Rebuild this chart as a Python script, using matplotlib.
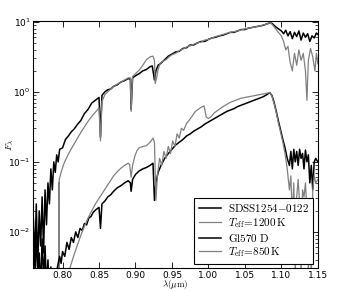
"""
Spectres SDSS1254-0122 et Gl570 D avec modeles Teff=1200 K et 850 K.
Export: out.png
"""

import matplotlib
matplotlib.use("Agg")
import numpy as np
import matplotlib.pyplot as plt

plt.rcParams["mathtext.fontset"] = "cm"

# SDSS1254-0122 (log10 F_lambda)
wl_sdss = [0.760, 0.762, 0.764, 0.766, 0.768, 0.770, 0.772, 0.774, 0.776, 0.778,
           0.780, 0.782, 0.784, 0.786, 0.788, 0.790, 0.792, 0.794, 0.796, 0.800,
           0.804, 0.808, 0.812, 0.816, 0.820, 0.825, 0.830, 0.835, 0.840, 0.845,
           0.850, 0.852, 0.854, 0.858, 0.862, 0.866, 0.870, 0.875, 0.880, 0.885,
           0.890, 0.893, 0.894, 0.896, 0.900, 0.905, 0.910, 0.915, 0.920, 0.923,
           0.926, 0.928, 0.931, 0.935, 0.940, 0.945, 0.950, 0.955, 0.960, 0.965,
           0.970, 0.975, 0.980, 0.985, 0.990, 0.995, 1.000, 1.005, 1.010, 1.015,
           1.020, 1.025, 1.030, 1.035, 1.040, 1.045, 1.050, 1.055, 1.060, 1.065,
           1.070, 1.075, 1.080, 1.085, 1.088, 1.092, 1.096, 1.100, 1.103, 1.106,
           1.109, 1.112, 1.115, 1.118, 1.121, 1.124, 1.127, 1.130, 1.133, 1.136,
           1.139, 1.142, 1.145, 1.148, 1.150]
lf_sdss = [-1.8, -2.4, -1.6, -2.5, -1.7, -2.2, -1.5, -2.3, -1.4, -1.9,
           -1.3, -1.6, -1.1, -1.4, -1.0, -1.15, -0.9, -1.0, -0.82, -0.80,
           -0.68, -0.63, -0.57, -0.53, -0.47, -0.41, -0.31, -0.25, -0.16, -0.12,
           -0.08, -0.65, -0.05, 0.0, 0.03, 0.04, 0.08, 0.10, 0.14, 0.16,
           0.19, 0.18, -0.25, 0.20, 0.23, 0.26, 0.30, 0.32, 0.36, 0.37,
           0.17, 0.30, 0.38, 0.41, 0.46, 0.51, 0.54, 0.57, 0.58, 0.62,
           0.63, 0.67, 0.67, 0.70, 0.72, 0.72, 0.75, 0.77, 0.78, 0.80,
           0.81, 0.83, 0.85, 0.85, 0.87, 0.89, 0.89, 0.91, 0.92, 0.93,
           0.94, 0.95, 0.97, 0.99, 0.97, 0.93, 0.90, 0.87, 0.83, 0.88,
           0.80, 0.86, 0.76, 0.85, 0.79, 0.87, 0.74, 0.84, 0.78, 0.83,
           0.72, 0.80, 0.77, 0.84, 0.82]

# modele Teff=1200 K
wl_m1200 = [0.7945, 0.7950, 0.7955, 0.798, 0.802, 0.806, 0.810, 0.815, 0.820, 0.825,
            0.830, 0.835, 0.840, 0.845, 0.850, 0.852, 0.854, 0.858, 0.862, 0.866,
            0.870, 0.875, 0.880, 0.885, 0.890, 0.893, 0.894, 0.896, 0.900, 0.905,
            0.910, 0.915, 0.920, 0.924, 0.926, 0.927, 0.929, 0.931, 0.934, 0.938,
            0.942, 0.946, 0.950, 0.955, 0.960, 0.965, 0.970, 0.975, 0.980, 0.985,
            0.990, 0.995, 1.000, 1.010, 1.020, 1.030, 1.040, 1.050, 1.060, 1.070,
            1.080, 1.085, 1.090, 1.095, 1.100, 1.103, 1.106, 1.109, 1.112, 1.115,
            1.118, 1.121, 1.124, 1.127, 1.130, 1.133, 1.135, 1.137, 1.140, 1.143,
            1.146, 1.148, 1.150]
lf_m1200 = [-1.30, -2.6, -1.25, -1.15, -1.02, -0.93, -0.85, -0.76, -0.67, -0.58,
            -0.50, -0.42, -0.35, -0.29, -0.23, -0.70, -0.14, -0.04, 0.0, 0.04,
            0.08, 0.11, 0.14, 0.17, 0.20, 0.20, -0.28, 0.22, 0.26, 0.31,
            0.38, 0.46, 0.50, 0.51, 0.45, 0.12, 0.20, 0.32, 0.41, 0.44,
            0.46, 0.50, 0.53, 0.55, 0.59, 0.61, 0.64, 0.66, 0.68, 0.70,
            0.71, 0.74, 0.75, 0.79, 0.82, 0.85, 0.87, 0.90, 0.92, 0.94,
            0.97, 0.99, 0.93, 0.86, 0.80, 0.72, 0.60, 0.65, 0.42, 0.30,
            0.55, 0.38, 0.60, 0.45, 0.55, 0.30, -0.12, 0.45, 0.62, 0.50,
            0.30, 0.55, 0.40]

# Gl570 D
wl_gl570 = [0.760, 0.762, 0.764, 0.766, 0.768, 0.770, 0.772, 0.774, 0.776, 0.778,
            0.780, 0.782, 0.784, 0.786, 0.788, 0.790, 0.793, 0.796, 0.798, 0.800,
            0.803, 0.806, 0.809, 0.812, 0.815, 0.818, 0.821, 0.824, 0.827, 0.830,
            0.833, 0.836, 0.839, 0.842, 0.846, 0.850, 0.852, 0.854, 0.858, 0.862,
            0.866, 0.870, 0.875, 0.880, 0.885, 0.890, 0.893, 0.894, 0.896, 0.900,
            0.905, 0.910, 0.915, 0.920, 0.924, 0.926, 0.928, 0.931, 0.935, 0.940,
            0.945, 0.950, 0.955, 0.960, 0.965, 0.970, 0.975, 0.980, 0.985, 0.990,
            0.995, 1.000, 1.005, 1.010, 1.015, 1.020, 1.025, 1.030, 1.035, 1.040,
            1.045, 1.050, 1.055, 1.060, 1.065, 1.070, 1.075, 1.080, 1.084, 1.087,
            1.090, 1.093, 1.096, 1.099, 1.102, 1.105, 1.108, 1.111, 1.113, 1.115,
            1.117, 1.119, 1.121, 1.123, 1.125, 1.127, 1.129, 1.131, 1.133, 1.135,
            1.137, 1.139, 1.141, 1.143, 1.145, 1.147, 1.150]
lf_gl570 = [-2.2, -2.7, -2.0, -2.6, -2.3, -2.8, -2.1, -2.7, -2.2, -2.8,
            -2.4, -2.9, -2.5, -2.8, -2.6, -2.9, -2.5, -2.35, -2.45, -2.28,
            -2.35, -2.15, -2.25, -2.08, -2.15, -2.0, -2.08, -1.95, -1.98, -1.88,
            -1.90, -1.80, -1.78, -1.72, -1.68, -1.65, -1.95, -1.60, -1.56, -1.50,
            -1.47, -1.42, -1.37, -1.34, -1.30, -1.27, -1.30, -1.42, -1.25, -1.18,
            -1.13, -1.10, -1.08, -1.05, -1.02, -1.55, -1.30, -1.15, -1.05, -0.95,
            -0.88, -0.82, -0.76, -0.72, -0.68, -0.63, -0.60, -0.56, -0.53, -0.50,
            -0.46, -0.43, -0.40, -0.37, -0.34, -0.31, -0.28, -0.26, -0.24, -0.21,
            -0.19, -0.17, -0.15, -0.13, -0.11, -0.09, -0.07, -0.04, -0.01, -0.05,
            -0.15, -0.28, -0.42, -0.55, -0.68, -0.80, -0.95, -1.05, -0.85, -1.10,
            -0.82, -1.00, -0.85, -1.05, -0.82, -0.95, -0.88, -1.10, -0.83, -1.00,
            -0.90, -1.30, -1.05, -1.40, -1.00, -0.95, -1.00]

# modele Teff=850 K
wl_m850 = [0.808, 0.812, 0.816, 0.820, 0.825, 0.830, 0.835, 0.840, 0.845, 0.850,
           0.855, 0.860, 0.865, 0.870, 0.875, 0.880, 0.885, 0.890, 0.892, 0.894,
           0.896, 0.899, 0.902, 0.905, 0.910, 0.915, 0.920, 0.924, 0.926, 0.928,
           0.930, 0.933, 0.936, 0.939, 0.942, 0.945, 0.948, 0.951, 0.954, 0.957,
           0.960, 0.963, 0.966, 0.970, 0.974, 0.978, 0.982, 0.986, 0.990, 0.994,
           0.997, 1.000, 1.004, 1.008, 1.012, 1.016, 1.020, 1.025, 1.030, 1.035,
           1.040, 1.045, 1.050, 1.055, 1.060, 1.065, 1.070, 1.075, 1.080, 1.084,
           1.087, 1.090, 1.093, 1.096, 1.099, 1.102, 1.105, 1.108, 1.111, 1.113,
           1.115, 1.117, 1.119, 1.121, 1.123, 1.125, 1.127, 1.129, 1.131, 1.133,
           1.135, 1.137, 1.139, 1.141, 1.143, 1.145, 1.147, 1.150]
lf_m850 = [-2.6, -2.45, -2.32, -2.20, -2.05, -1.92, -1.80, -1.70, -1.60, -1.52,
           -1.44, -1.36, -1.28, -1.20, -1.14, -1.09, -1.05, -1.02, -1.04, -1.22,
           -1.05, -0.92, -0.84, -0.80, -0.78, -0.77, -0.72, -0.66, -0.72, -1.55,
           -1.20, -0.95, -1.05, -0.85, -0.95, -0.78, -0.88, -0.70, -0.78, -0.60,
           -0.66, -0.52, -0.55, -0.45, -0.40, -0.34, -0.28, -0.25, -0.22, -0.20,
           -0.36, -0.38, -0.35, -0.30, -0.27, -0.24, -0.21, -0.18, -0.15, -0.13,
           -0.11, -0.09, -0.08, -0.07, -0.06, -0.05, -0.04, -0.03, -0.02, -0.01,
           -0.06, -0.17, -0.30, -0.45, -0.58, -0.72, -0.88, -1.10, -1.40, -1.20,
           -1.80, -1.30, -2.60, -1.50, -1.25, -1.60, -2.60, -1.40, -1.50, -1.30,
           -1.70, -2.60, -1.60, -2.70, -1.40, -1.20, -1.30, -1.25]

labels = [r"$\mathrm{SDSS1254{-}0122}$", r"$T_{\rm eff}\!=\!1200\,\mathrm{K}$",
          r"$\mathrm{Gl570\ D}$", r"$T_{\rm eff}\!=\!850\,\mathrm{K}$"]


def main():
    fig = plt.figure(figsize=(3.44, 2.91), dpi=100)
    ax = fig.add_axes([0.097, 0.079, 0.827, 0.848])

    ax.plot(wl_sdss, 10 ** np.array(lf_sdss), color="black", lw=1.1, label=labels[0])
    ax.plot(wl_m1200, 10 ** np.array(lf_m1200), color="0.5", lw=0.9, label=labels[1])
    ax.plot(wl_gl570, 10 ** np.array(lf_gl570), color="black", lw=1.1, label=labels[2])
    ax.plot(wl_m850, 10 ** np.array(lf_m850), color="0.5", lw=0.9, label=labels[3])

    ax.set_yscale("log")
    ax.set_xlim(0.76, 1.15)
    ax.set_ylim(3.05e-3, 10.2)
    ax.set_xticks([0.80, 0.85, 0.90, 0.95, 1.00, 1.05, 1.10, 1.15])
    ax.set_xticklabels(["0.80", "0.85", "0.90", "0.95", "1.00", "1.05", "1.10", "1.15"])
    ax.tick_params(which="both", direction="in", top=True, right=True, labelsize=6.5)
    ax.tick_params(which="major", length=4, width=0.6, pad=2)
    ax.tick_params(which="minor", length=2, width=0.5)
    for s in ax.spines.values():
        s.set_linewidth(0.8)

    ax.set_xlabel(r"$\lambda(\mu\mathrm{m})$", fontsize=6.5)
    ax.xaxis.set_label_coords(0.5, -0.042)
    ax.set_ylabel(r"$F_\lambda$", fontsize=7)
    ax.yaxis.set_label_coords(-0.062, 0.5)

    leg = ax.legend(loc="lower right", fontsize=8, fancybox=False, framealpha=1,
                    edgecolor="black", handlelength=2.0, borderpad=0.4,
                    labelspacing=0.15, handletextpad=0.6, borderaxespad=0.4)
    leg.get_frame().set_linewidth(0.8)

    fig.savefig("out.png", dpi=100)
    plt.close(fig)


if __name__ == "__main__":
    main()
